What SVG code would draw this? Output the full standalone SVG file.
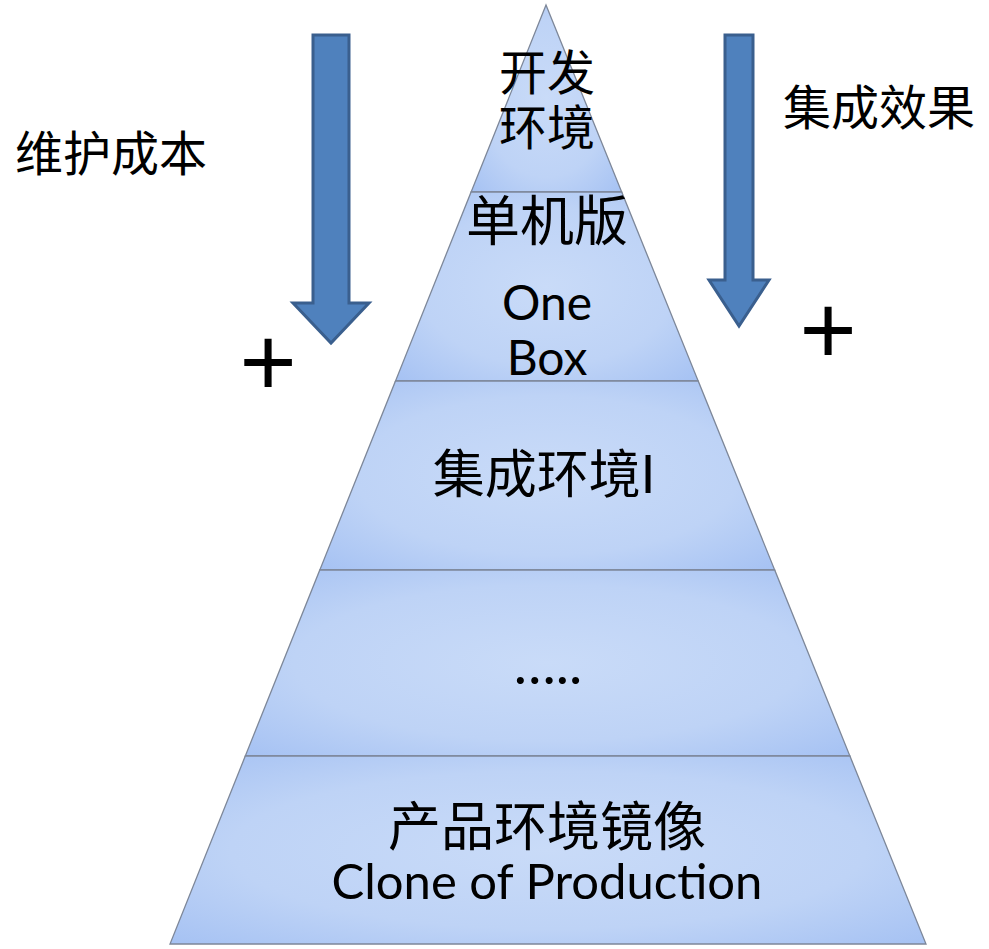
<svg xmlns="http://www.w3.org/2000/svg" width="989" height="949" viewBox="0 0 989 949">
<style>
.layer{fill:url(#lg);stroke:#7d8799;stroke-width:1.3}
.arrow{fill:#4f81bd;stroke:#3a5f8e;stroke-width:3}
.t{font-family:Lato,"Noto Sans CJK SC",sans-serif;fill:#000;text-anchor:middle}
.side{font-family:"Noto Sans CJK SC",sans-serif;fill:#000;font-size:48px}
.plus{font-family:"Liberation Sans",sans-serif;font-size:98px;fill:#000;text-anchor:middle}
</style>
<defs>
<radialGradient id="lg" cx="0.5" cy="0.5" r="0.7">
<stop offset="0" stop-color="#c9dbf8"/>
<stop offset="0.6" stop-color="#bed3f6"/>
<stop offset="1" stop-color="#a6c2f3"/>
</radialGradient>
</defs>
<g id="pyramid">
<g id="layer1"><polygon class="layer" points="546,5 621.7,192 471.1,192"/>
<text class="t" x="547" y="90" font-size="48">开发</text>
<text class="t" x="547" y="145" font-size="48">环境</text></g>
<g id="layer2"><polygon class="layer" points="471.1,192 621.7,192 698.2,381 395.5,381"/>
<text class="t" x="547" y="241" font-size="54">单机版</text>
<text class="t" x="547" y="320" font-size="48">One</text>
<text class="t" x="547" y="375" font-size="48">Box</text></g>
<g id="layer3"><polygon class="layer" points="395.5,381 698.2,381 774.7,570 319.8,570"/>
<text class="t" x="544" y="493" font-size="52">集成环境I</text></g>
<g id="layer4"><polygon class="layer" points="319.8,570 774.7,570 849.9,756 245.3,756"/>
<text class="t" x="548" y="684" font-size="56">…..</text></g>
<g id="layer5"><polygon class="layer" points="245.3,756 849.9,756 926,944 170,944"/>
<text class="t" x="547" y="846" font-size="53">产品环境镜像</text>
<text class="t" x="547" y="899" font-size="49">Clone of Production</text></g>
</g>
<g id="connectors">
<path class="arrow" d="M313,35 H349 V303 H369 L331,343 L293,303 H313 Z"/>
<path class="arrow" d="M725,35 H753 V280 H769 L739,326 L709,280 H725 Z"/>
</g>
<g id="labels">
<text class="side" x="15" y="171">维护成本</text>
<text class="side" x="783" y="125">集成效果</text>
<text class="plus" x="268" y="396">+</text>
<text class="plus" x="828" y="364">+</text>
</g>
</svg>
